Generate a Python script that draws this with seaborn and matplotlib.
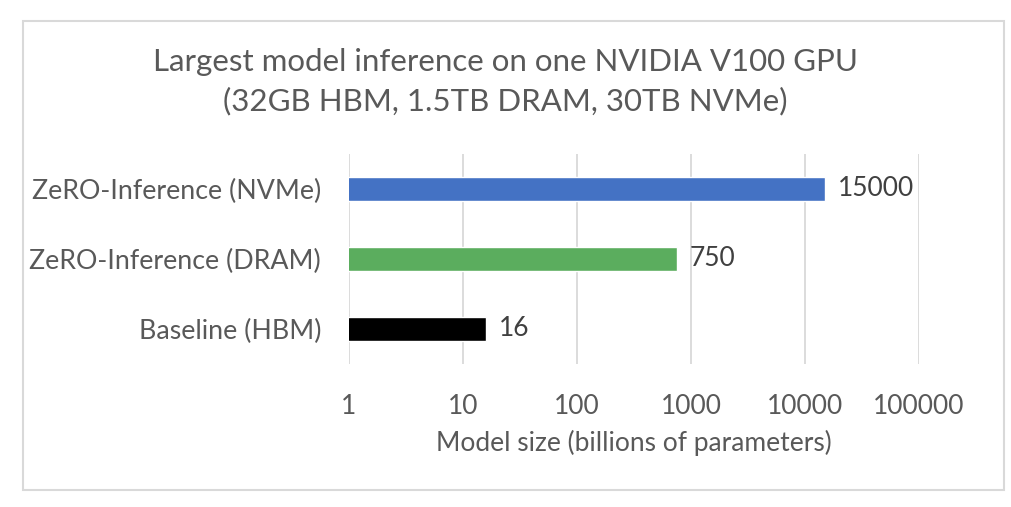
import matplotlib
matplotlib.use("Agg")
import matplotlib.pyplot as plt
import seaborn as sns
import pandas as pd
from matplotlib.patches import Rectangle
from matplotlib.ticker import FixedLocator, NullLocator, FixedFormatter

categories = ["ZeRO-Inference (NVMe)", "ZeRO-Inference (DRAM)", "Baseline (HBM)"]
values = [15000, 750, 16]
value_labels = ["15000", "750", "16"]
bar_colors = ["#4472C4", "#5BAD5E", "#000000"]
tick_values = [1, 10, 100, 1000, 10000, 100000]
tick_labels = ["1", "10", "100", "1000", "10000", "100000"]
title_lines = ["Largest model inference on one NVIDIA V100 GPU", "(32GB HBM, 1.5TB DRAM, 30TB NVMe)"]
x_label = "Model size (billions of parameters)"

sns.set_theme(style="white")
plt.rcParams["font.family"] = ["Lato", "DejaVu Sans"]
text_color = "#595959"

df = pd.DataFrame({"category": categories, "value": values})

fig = plt.figure(figsize=(10.11, 5.07), dpi=100)
ax = fig.add_axes([349 / 1011, 1 - 364 / 507, 570 / 1011, 210 / 507])
ax.set_xscale("log")
sns.barplot(data=df, y="category", x="value", hue="category", palette=bar_colors,
            order=categories, hue_order=categories, legend=False, width=0.34,
            orient="h", ax=ax, saturation=1)
ax.set_xlim(1, 100000)
ax.set_ylim(2.5, -0.5)

ax.xaxis.set_major_locator(FixedLocator(tick_values))
ax.xaxis.set_major_formatter(FixedFormatter(tick_labels))
ax.xaxis.set_minor_locator(NullLocator())
ax.grid(axis="x", color="#D9D9D9", linewidth=1.3)
ax.set_axisbelow(True)
for s in ax.spines.values():
    s.set_visible(False)
ax.tick_params(axis="x", length=0, pad=21.5, labelsize=19, labelcolor=text_color)
ax.tick_params(axis="y", length=0, pad=20, labelsize=19.3, labelcolor=text_color)
ax.set_ylabel("")
ax.set_xlabel(x_label, fontsize=19, color=text_color, labelpad=8)

for i, c in enumerate(ax.containers):
    ax.bar_label(c, labels=[value_labels[i]], padding=9, fontsize=19, color="#404040")

fig.text(0.5, 1 - 62 / 507, title_lines[0], ha="center", va="center", fontsize=22.5, color=text_color)
fig.text(0.5, 1 - 101 / 507, title_lines[1], ha="center", va="center", fontsize=22.5, color=text_color)

fig.patches.append(Rectangle((23 / 1011, 1 - 490 / 507), (1004 - 23) / 1011, (490 - 21) / 507,
                             transform=fig.transFigure, fill=False, edgecolor="#D9D9D9", linewidth=1.5))

fig.savefig("out.png", dpi=100)
